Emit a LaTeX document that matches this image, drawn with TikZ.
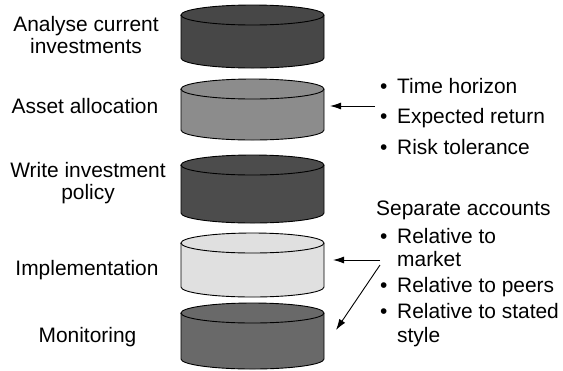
\documentclass[tikz,border=0pt]{standalone}
\usepackage{fontspec}
\setmainfont{Liberation Sans}
\usetikzlibrary{arrows.meta}

\definecolor{drumA}{gray}{0.28}
\definecolor{drumB}{gray}{0.55}
\definecolor{drumC}{gray}{0.30}
\definecolor{drumD}{gray}{0.88}
\definecolor{drumE}{gray}{0.41}

% drum: name, top, bottom, fill
\newcommand{\drum}[4]{%
\filldraw[fill=#4, line width=0.9bp] (181,-#2) -- (181,-#3)
  arc[start angle=180, end angle=360, x radius=71.5bp, y radius=10bp]
  -- (324,-#2) arc[start angle=0, end angle=180, x radius=71.5bp, y radius=10bp] -- cycle;
\draw[line width=0.9bp] (181,-#2) arc[start angle=180, end angle=360, x radius=71.5bp, y radius=10bp];
\coordinate (#1) at (252.5,-#2);
}
\newcommand{\itm}{\hspace*{4bp}\makebox[17bp][l]{\textbullet}}
\newcommand{\cont}{\hspace*{21bp}}

\begin{document}
\begin{tikzpicture}[x=1bp,y=1bp, font=\fontsize{21}{22.5}\selectfont,
  >={Latex[length=11bp,width=7bp]},
  lbl/.style={align=center, anchor=base, inner sep=0, font=\fontsize{21}{21.5}\selectfont},
  lst/.style={align=left, anchor=base west, inner sep=0}]
\useasboundingbox (0,0) rectangle (563,-370);

% the drums
\drum{analyse-d}{15}{58}{drumA}
\drum{alloc-d}{89}{130}{drumB}
\drum{policy-d}{165}{213}{drumC}
\drum{impl-d}{243}{287}{drumD}
\drum{monitor-d}{313}{359}{drumE}

% left labels
\node[lbl] (analyse) at (86,-53) {Analyse current\\investments};
\node[lbl] (alloc) at (85,-113) {Asset allocation};
\node[lbl] (policy) at (88,-199) {Write investment\\policy};
\node[lbl] (impl) at (87,-275) {Implementation};
\node[lbl] (monitor) at (87.5,-342) {Monitoring};

% right lists
\node[lst] (factors) at (376,-154) {\itm Time horizon\\[8bp]\itm Expected return\\[8bp]\itm Risk tolerance};
\node[lst] (accounts) at (376,-342) {Separate accounts\\[5.5bp]\itm Relative to\\\cont market\\[3.5bp]\itm Relative to peers\\[3.5bp]\itm Relative to stated\\[1.5bp]\cont style};

% arrows
\coordinate (factors-out) at (375,-106);
\coordinate (alloc-in) at (330,-106);
\draw[->, line width=0.9bp] (factors-out) -- (alloc-in);

\coordinate (accounts-out) at (380,-260);
\coordinate (accounts-out2) at (380,-265);
\coordinate (impl-in) at (333,-260);
\coordinate (monitor-in) at (336,-330);
\draw[->, line width=0.9bp] (accounts-out) -- (impl-in);
\draw[->, line width=0.9bp] (accounts-out2) -- (monitor-in);

\end{tikzpicture}
\end{document}
